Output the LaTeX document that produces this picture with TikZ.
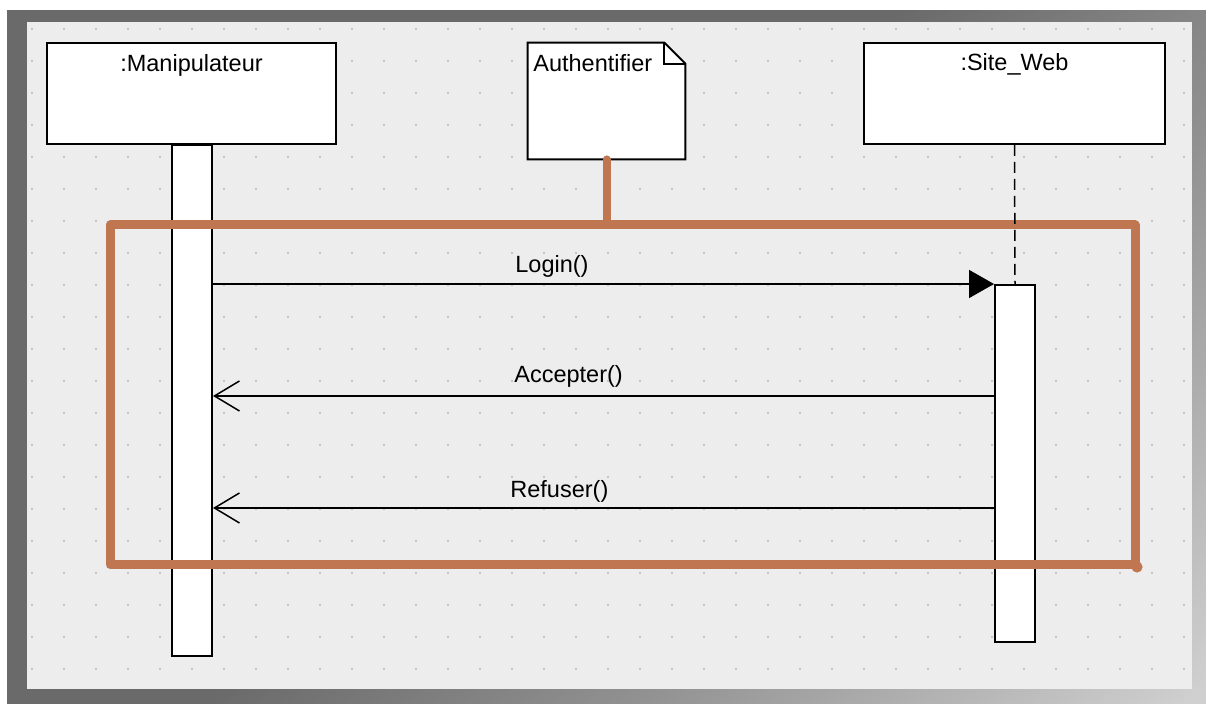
\documentclass[tikz,border=0pt]{standalone}
\usepackage{fontspec}
\setmainfont{Liberation Sans}
\usetikzlibrary{arrows.meta}

\definecolor{bgpanel}{HTML}{EDEDED}
\definecolor{griddot}{HTML}{B8B8B8}
\definecolor{framerust}{RGB}{191,118,81}
\definecolor{fdark}{HTML}{6A6A6A}
\definecolor{fmid}{HTML}{919191}
\definecolor{flight}{HTML}{D0D0D0}
\pgfdeclarehorizontalshading{bezelshade}{100bp}{color(0bp)=(fdark); color(48bp)=(fdark); color(64bp)=(fmid); color(85bp)=(flight); color(100bp)=(flight)}

\begin{document}
\begin{tikzpicture}[x=0.5pt,y=-0.5pt,
  umlfont/.style={font=\fontsize{11.75}{14}\selectfont, inner sep=0pt},
  objbox/.style={draw=black, line width=1pt, fill=white, minimum width=#1,
    minimum height=50.5pt, inner sep=0pt},
  actbox/.style={draw=black, line width=1pt, fill=white, minimum width=20pt,
    inner sep=0pt, anchor=north},
  msg/.style={draw=black, line width=0.75pt},
  syncarrow/.style={-{Triangle[length=12.5pt,width=14pt]}},
  replyarrow/.style={-{Straight Barb[length=12.5pt,width=15pt,line width=0.75pt]}},
  fragframe/.style={draw=framerust, line width=4.5pt, line join=round,
    inner sep=0pt, outer sep=0pt}
]
% canvas, bevelled frame and dotted panel
\path[use as bounding box] (0,0) rectangle (1206,704);
\fill[white] (0,0) rectangle (1206,704);
\shade[shading=bezelshade, shading angle=-45] (7,11) rectangle (1206,704);
\fill[bgpanel] (27,22) rectangle (1192,689);
\foreach \i in {1,...,37}
  \foreach \j in {0,...,20}
    \fill[griddot] (32*\i,29+32*\j) circle[radius=0.6pt];

% participants
\node[objbox=144.5pt] (manip) at (191.5,93.5) {};
\node[objbox=150.5pt] (site) at (1014.5,93.5) {};
\node[umlfont, anchor=base] (maniplbl) at (191.5,72) {:Manipulateur};
\node[umlfont, anchor=base] (sitelbl) at (1014.5,71) {:Site\_Web};

% activation bars
\node[actbox, minimum height=255.5pt] (manipact) at (192,144) {};
\node[actbox, minimum height=178.5pt] (siteact) at (1015,284) {};

% note with folded corner
\node[minimum width=78.5pt, minimum height=58pt, inner sep=0pt] (note) at (606.5,101) {};
\draw[line width=1pt, fill=white] (note.north west) -- ([xshift=-10.5pt]note.north east)
  -- ([yshift=-10.5pt]note.north east) -- (note.south east) -- (note.south west) -- cycle;
\draw[line width=1pt] ([xshift=-10.5pt]note.north east) |- ([yshift=-10.5pt]note.north east);
\node[umlfont, anchor=base west] (notelbl) at (533,72) {Authentifier};

% combined fragment and its link to the note
\node[fragframe, minimum width=512.5pt, minimum height=170pt] (frag) at (622.5,395) {};
\fill[framerust] ([xshift=1pt,yshift=-1pt]frag.south east) circle[radius=2.8pt];
\draw[framerust, line width=4pt, line cap=round] (note.south) -- (note.south |- frag.north);

% lifeline of the web site
\draw[line width=0.75pt, dash pattern=on 5.5pt off 3pt] (site.south) -- (siteact.north);

% messages
\coordinate (yaccept) at (0,396);
\coordinate (yrefuse) at (0,508);
\draw[msg, syncarrow] (manipact.east |- siteact.north) -- (siteact.north west);
\draw[msg, replyarrow] (siteact.west |- yaccept) -- (manipact.east |- yaccept);
\draw[msg, replyarrow] (siteact.west |- yrefuse) -- (manipact.east |- yrefuse);
\node[umlfont, anchor=base west] (loginlbl) at (515,273) {Login()};
\node[umlfont, anchor=base west] (acceptlbl) at (514,383) {Accepter()};
\node[umlfont, anchor=base west] (refuselbl) at (510,498) {Refuser()};
\end{tikzpicture}
\end{document}
